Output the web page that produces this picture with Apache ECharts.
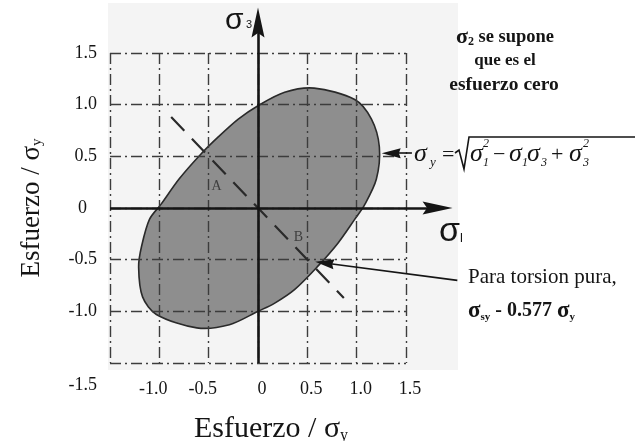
<!DOCTYPE html>
<html>
<head>
<meta charset="utf-8">
<script src="https://cdn.jsdelivr.net/npm/echarts@6/dist/echarts.min.js"></script>
<style>
  html, body { margin: 0; padding: 0; background: #ffffff; }
  #chart { width: 636px; height: 441px; }
</style>
</head>
<body>
<div id="chart"></div>
<script>
// Von Mises yield locus for plane stress (σ2 = 0), stresses normalised by σy.

// Axis ticks (σ / σy)
const tickValues = [-1.5, -1.0, -0.5, 0, 0.5, 1.0, 1.5];
const tickLabels = ['-1.5', '-1.0', '-0.5', '0', '0.5', '1.0', '1.5'];

// Yield ellipse boundary, clockwise from the top
const locusS1 = [0.57, 0.98, 1.15, 1.23, 1.20, 1.08, 0.98, 0.81, 0.60, 0.37, 0.17, 0.00,
                 -0.29, -0.62, -1.03, -1.17, -1.21, -1.18, -1.10, -0.98, -0.80, -0.58, -0.40, -0.20, 0.00, 0.27];
const locusS3 = [1.16, 1.05, 0.86, 0.59, 0.28, 0.03, -0.11, -0.34, -0.57, -0.79, -0.92, -1.00,
                 -1.13, -1.16, -1.03, -0.86, -0.57, -0.37, -0.11, 0.04, 0.28, 0.52, 0.69, 0.86, 0.99, 1.12];

// Pure-shear path σ3 = −σ1
const shearS1 = [-0.88, 0.87];
const shearS3 = [0.88, -0.87];

// Named points on the shear path
const pointNames = ['A', 'B'];
const pointS1 = [-0.42, 0.41];
const pointS3 = [0.21, -0.28];

// Principal-stress axes (start, arrowhead centre)
const sigma1Axis = [[-1.5, 0], [1.82, 0]];
const sigma3Axis = [[0, -1.5], [0, 1.795]];

// Callout pointers (tail, arrowhead centre)
const yieldPointer = [[1.56, 0.53], [1.35, 0.53]];
const torsionPointer = [[2.02, -0.70], [0.675, -0.532]];

const serif = 'Liberation Serif';
const ink = '#151515';

function tickText(v) {
  const i = tickValues.findIndex(t => Math.abs(t - v) < 1e-9);
  return i >= 0 ? tickLabels[i] : String(v);
}

const gridLine = { color: '#3c3c3c', width: 1.4, type: [11, 4, 2, 4] };
const labelFont = { fontFamily: serif, fontSize: 18, color: ink };

const option = {
  backgroundColor: '#ffffff',
  animation: false,
  grid: { left: 110, top: 53, width: 296, height: 310, outerBoundsMode: 'none', containLabel: false },
  xAxis: {
    type: 'value', min: -1.5, max: 1.5, interval: 0.5,
    axisLine: { show: false }, axisTick: { show: false },
    splitLine: { show: true, lineStyle: gridLine },
    axisLabel: {
      showMinLabel: false, margin: 17, ...labelFont,
      formatter: v => (v < 0 ? '{neg|' : '{pos|') + tickText(v) + '}',
      rich: {
        neg: { ...labelFont, padding: [0, 12, 0, 0] },
        pos: { ...labelFont, padding: [0, 0, 0, 8] }
      }
    },
    name: 'Esfuerzo / σ{sub|y}', nameLocation: 'middle', nameGap: 51,
    nameTextStyle: {
      fontFamily: serif, fontSize: 30, color: ink, padding: [0, 0, 0, 26],
      rich: { sub: { fontFamily: serif, fontSize: 16, color: ink, verticalAlign: 'bottom', padding: [10, 0, 0, 0] } }
    }
  },
  yAxis: {
    type: 'value', min: -1.5, max: 1.5, interval: 0.5,
    axisLine: { show: false }, axisTick: { show: false },
    splitLine: { show: true, lineStyle: gridLine },
    axisLabel: {
      margin: 13, ...labelFont,
      formatter: v => {
        if (v === 0) return '{zero|0}';
        if (v === -1.5) return '{low|' + tickText(v) + '}';
        return '{n|' + tickText(v) + '}';
      },
      rich: {
        n: { ...labelFont },
        zero: { ...labelFont, padding: [0, 10, 0, 0] },
        low: { ...labelFont, padding: [44, 0, 0, 0] }
      }
    },
    name: 'Esfuerzo / σ{sub|y}', nameLocation: 'middle', nameGap: 65, nameRotate: 90,
    nameTextStyle: {
      fontFamily: serif, fontSize: 27, color: ink,
      rich: { sub: { fontFamily: serif, fontSize: 15, color: ink, verticalAlign: 'bottom', padding: [10, 0, 0, 0] } }
    }
  },
  graphic: {
    elements: [
      // light backdrop behind the plotting area
      { type: 'rect', z: -10, shape: { x: 108, y: 3, width: 350, height: 367 }, style: { fill: '#f4f4f4' } },

      // axis symbols
      { type: 'text', z: 10, style: { text: 'σ', x: 225, y: 21, fontFamily: 'Liberation Sans', fontSize: 30, fill: ink, textVerticalAlign: 'middle' } },
      { type: 'text', z: 10, style: { text: '3', x: 246, y: 25, fontFamily: 'Liberation Sans', fontSize: 11, fill: ink, textVerticalAlign: 'middle' } },
      { type: 'text', z: 10, style: { text: 'σ', x: 439, y: 232, fontFamily: 'Liberation Sans', fontSize: 34, fill: ink, textVerticalAlign: 'middle' } },
      { type: 'text', z: 10, style: { text: 'l', x: 460, y: 238, fontFamily: 'Liberation Sans', fontSize: 13, fill: ink, textVerticalAlign: 'middle' } },

      // note about σ2
      { type: 'text', z: 10, style: {
          text: '{g|σ}{s|2}{t| se supone}', x: 505, y: 37, textAlign: 'center', textVerticalAlign: 'middle',
          rich: {
            g: { fontFamily: serif, fontWeight: 'bold', fontSize: 22, fill: ink },
            s: { fontFamily: serif, fontWeight: 'bold', fontSize: 12, fill: ink, verticalAlign: 'bottom' },
            t: { fontFamily: serif, fontWeight: 'bold', fontSize: 18.5, fill: ink }
          } } },
      { type: 'text', z: 10, style: { text: 'que es el', x: 505, y: 61, textAlign: 'center', textVerticalAlign: 'middle', fontFamily: serif, fontWeight: 'bold', fontSize: 17, fill: ink } },
      { type: 'text', z: 10, style: { text: 'esfuerzo cero', x: 504, y: 85, textAlign: 'center', textVerticalAlign: 'middle', fontFamily: serif, fontWeight: 'bold', fontSize: 19.5, fill: ink } },

      // yield criterion formula
      { type: 'text', z: 10, style: { text: 'σ', x: 414, y: 154, fontFamily: serif, fontStyle: 'italic', fontSize: 26, fill: ink, textVerticalAlign: 'middle' } },
      { type: 'text', z: 10, style: { text: 'y', x: 430, y: 163, fontFamily: serif, fontStyle: 'italic', fontSize: 13, fill: ink, textVerticalAlign: 'middle' } },
      { type: 'text', z: 10, style: { text: '=', x: 442, y: 155, fontFamily: serif, fontSize: 22, fill: ink, textVerticalAlign: 'middle' } },
      { type: 'polyline', z: 10, shape: { points: [[455, 153], [459, 150], [464, 169], [469, 137], [635, 137]] }, style: { stroke: ink, lineWidth: 1.6, fill: null } },
      { type: 'text', z: 10, style: { text: 'σ', x: 470, y: 154, fontFamily: serif, fontStyle: 'italic', fontSize: 26, fill: ink, textVerticalAlign: 'middle' } },
      { type: 'text', z: 10, style: { text: '1', x: 483, y: 163, fontFamily: serif, fontStyle: 'italic', fontSize: 12, fill: ink, textVerticalAlign: 'middle' } },
      { type: 'text', z: 10, style: { text: '2', x: 483, y: 144, fontFamily: serif, fontStyle: 'italic', fontSize: 12, fill: ink, textVerticalAlign: 'middle' } },
      { type: 'text', z: 10, style: { text: '−', x: 493, y: 155, fontFamily: serif, fontSize: 22, fill: ink, textVerticalAlign: 'middle' } },
      { type: 'text', z: 10, style: { text: 'σ', x: 509, y: 154, fontFamily: serif, fontStyle: 'italic', fontSize: 26, fill: ink, textVerticalAlign: 'middle' } },
      { type: 'text', z: 10, style: { text: '1', x: 522, y: 163, fontFamily: serif, fontStyle: 'italic', fontSize: 12, fill: ink, textVerticalAlign: 'middle' } },
      { type: 'text', z: 10, style: { text: 'σ', x: 527, y: 154, fontFamily: serif, fontStyle: 'italic', fontSize: 26, fill: ink, textVerticalAlign: 'middle' } },
      { type: 'text', z: 10, style: { text: '3', x: 541, y: 163, fontFamily: serif, fontStyle: 'italic', fontSize: 12, fill: ink, textVerticalAlign: 'middle' } },
      { type: 'text', z: 10, style: { text: '+', x: 551, y: 155, fontFamily: serif, fontSize: 22, fill: ink, textVerticalAlign: 'middle' } },
      { type: 'text', z: 10, style: { text: 'σ', x: 569, y: 154, fontFamily: serif, fontStyle: 'italic', fontSize: 26, fill: ink, textVerticalAlign: 'middle' } },
      { type: 'text', z: 10, style: { text: '3', x: 583, y: 163, fontFamily: serif, fontStyle: 'italic', fontSize: 12, fill: ink, textVerticalAlign: 'middle' } },
      { type: 'text', z: 10, style: { text: '2', x: 583, y: 144, fontFamily: serif, fontStyle: 'italic', fontSize: 12, fill: ink, textVerticalAlign: 'middle' } },

      // torsion note
      { type: 'text', z: 10, style: { text: 'Para torsion pura,', x: 468, y: 277, fontFamily: serif, fontSize: 21, fill: ink, textVerticalAlign: 'middle' } },
      { type: 'text', z: 10, style: {
          text: '{g|σ}{s|sy}{t| - 0.577 }{g|σ}{s|y}', x: 468, y: 311, textVerticalAlign: 'middle',
          rich: {
            g: { fontFamily: serif, fontWeight: 'bold', fontSize: 23, fill: ink },
            s: { fontFamily: serif, fontWeight: 'bold', fontSize: 11, fill: ink, verticalAlign: 'bottom' },
            t: { fontFamily: serif, fontWeight: 'bold', fontSize: 20, fill: ink }
          } } }
    ]
  },
  series: [
    {
      name: 'Locus', type: 'custom', coordinateSystem: 'cartesian2d', z: -1,
      data: locusS1.map((x, i) => [x, locusS3[i]]),
      encode: { x: 0, y: 1 },
      renderItem: (params, api) => {
        if (params.dataIndex !== 0) return null;
        const pts = locusS1.map((x, i) => api.coord([x, locusS3[i]]));
        return {
          type: 'polygon',
          shape: { points: pts, smooth: 0.3 },
          style: { fill: '#8e8e8e', stroke: '#2a2a2a', lineWidth: 1.6 }
        };
      }
    },
    {
      name: 'Shear', type: 'line', showSymbol: false, symbol: 'none',
      data: shearS1.map((x, i) => [x, shearS3[i]]),
      lineStyle: { color: '#2a2a2a', width: 2.2, type: [19, 11] }
    },
    {
      name: 'Points', type: 'scatter', symbolSize: 1,
      itemStyle: { color: 'rgba(0,0,0,0)' },
      data: pointNames.map((n, i) => ({ name: n, value: [pointS1[i], pointS3[i]] })),
      label: { show: true, position: 'inside', formatter: '{b}', fontFamily: serif, fontSize: 14, color: '#2a2a2a' }
    },
    {
      name: 'Axes', type: 'lines', coordinateSystem: 'cartesian2d', clip: false, z: 5,
      symbol: ['none', 'path://M5,0L10,20L5,17L0,20Z'], symbolSize: [0, [13, 30]],
      lineStyle: { color: ink, width: 2.6, opacity: 1 },
      data: [{ coords: sigma1Axis }, { coords: sigma3Axis }]
    },
    {
      name: 'Pointers', type: 'lines', coordinateSystem: 'cartesian2d', clip: false, z: 5,
      symbol: ['none', 'path://M5,0L10,20L5,18L0,20Z'], symbolSize: [0, [10, 19]],
      lineStyle: { color: ink, width: 1.6, opacity: 1 },
      data: [{ coords: yieldPointer }, { coords: torsionPointer }]
    }
  ]
};

const chart = echarts.init(document.getElementById('chart'));
chart.setOption(option);
</script>
</body>
</html>
